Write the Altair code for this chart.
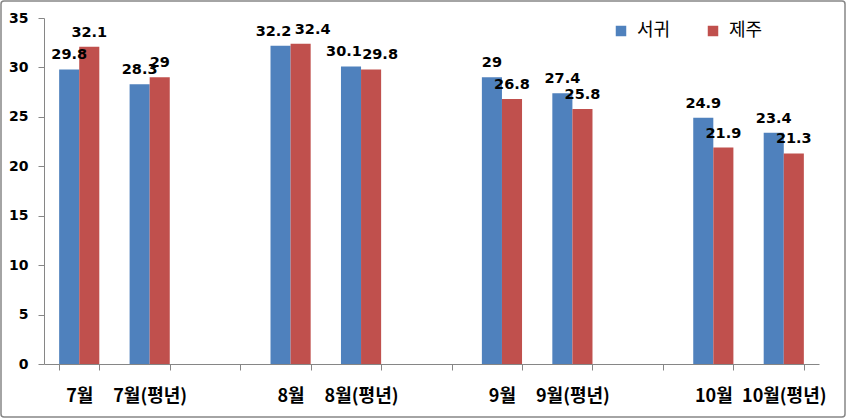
import altair as alt
import pandas as pd

categories = ["7월", "7월(평년)", "gap1", "8월", "8월(평년)", "gap2",
              "9월", "9월(평년)", "gap3", "10월", "10월(평년)"]
groups = ["7월", "7월(평년)", "8월", "8월(평년)", "9월", "9월(평년)", "10월", "10월(평년)"]
seogwi = [29.8, 28.3, 32.2, 30.1, 29.0, 27.4, 24.9, 23.4]
jeju = [32.1, 29.0, 32.4, 29.8, 26.8, 25.8, 21.9, 21.3]
series = ["서귀", "제주"]
colors = ["#4F81BD", "#C0504D"]
y_ticks = [0, 5, 10, 15, 20, 25, 30, 35]

rows = []
for g, a, b in zip(groups, seogwi, jeju):
    rows.append({"cat": g, "series": series[0], "value": a, "label": f"{a:g}"})
    rows.append({"cat": g, "series": series[1], "value": b, "label": f"{b:g}"})
df = pd.DataFrame(rows)

W, H = 775, 346
PAD = {"left": 44, "top": 18, "right": 846 - 44 - W, "bottom": 418 - 18 - H}

x = alt.X(
    "cat:N",
    sort=categories,
    scale=alt.Scale(domain=categories, paddingInner=0.43, paddingOuter=0.215),
    axis=alt.Axis(
        title=None, labelAngle=0, tickBand="extent",
        labelExpr="indexof(datum.label, 'gap') >= 0 ? '' : datum.label",
        labelFont="Noto Sans CJK KR", labelFontWeight="bold", labelFontSize=18,
        labelColor="black", labelPadding=17, tickSize=6, tickColor="#868686",
        domainColor="#868686", grid=False,
    ),
)
xo = alt.XOffset("series:N", sort=series,
                 scale=alt.Scale(domain=series, paddingInner=0, paddingOuter=0))
y = alt.Y(
    "value:Q",
    scale=alt.Scale(domain=[0, 35], nice=False, zero=True),
    axis=alt.Axis(
        title=None, values=y_ticks, grid=False, tickSize=6, tickColor="#868686",
        domainColor="#868686", labelFont="DejaVu Sans", labelFontWeight="bold",
        labelFontSize=14, labelColor="black", labelPadding=10,
    ),
)

base = alt.Chart(df)
bars = base.mark_bar().encode(
    x=x, xOffset=xo, y=y,
    color=alt.Color(
        "series:N", sort=series,
        scale=alt.Scale(domain=series, range=colors),
        legend=alt.Legend(
            title=None, orient="none", legendX=568, legendY=4, direction="horizontal",
            symbolType="square", symbolSize=110, symbolStrokeWidth=0,
            labelFont="Noto Sans CJK KR", labelFontSize=18, labelColor="black",
            columnPadding=33, labelOffset=7, padding=0,
        ),
    ),
)


def label_layer(filt, dx=0, dy=-10):
    return base.transform_filter(filt).mark_text(
        baseline="alphabetic", dx=dx, dy=dy, font="DejaVu Sans", fontWeight="bold",
        fontSize=14.5, color="black",
    ).encode(x=x, xOffset=xo, y=y, text="label:N")


is8 = "(datum.cat == '8월' || datum.cat == '8월(평년)')"
texts_default = label_layer(f"!{is8}")
text_8_blue = label_layer("datum.cat == '8월' && datum.series == '서귀'", dx=-7)
text_8_red = label_layer("datum.cat == '8월' && datum.series == '제주'", dx=12)
text_8n_blue = label_layer("datum.cat == '8월(평년)' && datum.series == '서귀'", dx=-7)
text_8n_red = label_layer("datum.cat == '8월(평년)' && datum.series == '제주'", dx=9)

border = alt.Chart(alt.Data(values=[{"k": 1}])).mark_rect(
    fillOpacity=0, stroke="#868686", strokeWidth=1.5, cornerRadius=3,
).encode(
    x=alt.value(-PAD["left"] + 1), x2=alt.value(W + PAD["right"] - 1),
    y=alt.value(-PAD["top"] + 1), y2=alt.value(H + PAD["bottom"] - 1),
)

chart = alt.layer(
    bars, texts_default, text_8_blue, text_8_red, text_8n_blue, text_8n_red, border
).properties(
    width=W, height=H, padding=PAD, autosize=alt.AutoSizeParams(type="none"),
    background="white",
).configure_view(stroke=None)

chart.save("out.html", embed_options={"renderer": "svg", "actions": False})
